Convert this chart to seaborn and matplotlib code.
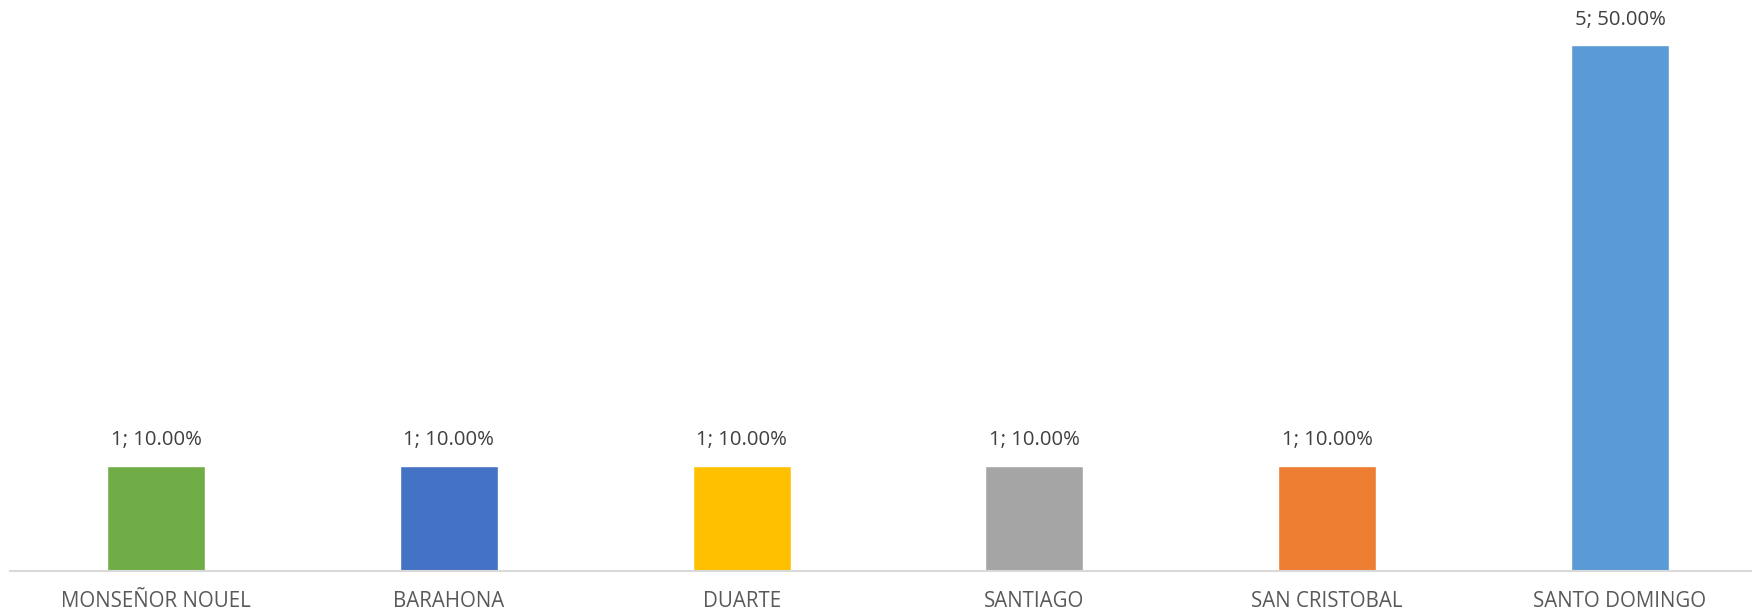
import matplotlib
matplotlib.use("Agg")
import matplotlib.pyplot as plt
import seaborn as sns
import pandas as pd

provincias = ["MONSEÑOR NOUEL", "BARAHONA", "DUARTE", "SANTIAGO", "SAN CRISTOBAL", "SANTO DOMINGO"]
cantidades = [1, 1, 1, 1, 1, 5]
porcentajes = [10.00, 10.00, 10.00, 10.00, 10.00, 50.00]
colores = ["#70AD47", "#4472C4", "#FFC000", "#A5A5A5", "#ED7D31", "#5B9BD5"]

df = pd.DataFrame({"provincia": provincias, "cantidad": cantidades})

sns.set_theme(style="white")
plt.rcParams["font.family"] = ["Open Sans", "DejaVu Sans"]

W, H = 1752, 612
fig = plt.figure(figsize=(W / 100, H / 100), dpi=100)
# plot area in pixels: left 9.6, baseline 570.5, 105 px per unit
left_px, base_px, unit_px = 9.6, 570.5, 105.0
ymax = 5.6
ax = fig.add_axes([left_px / W, (H - base_px) / H, 1756.8 / W, ymax * unit_px / H])

sns.barplot(data=df, x="provincia", y="cantidad", hue="provincia",
            palette=colores, width=0.335, legend=False, ax=ax, saturation=1)

ax.set_xlim(-0.5, 5.5)
ax.set_ylim(0, ymax)
for s in ["top", "right", "left"]:
    ax.spines[s].set_visible(False)
ax.spines["bottom"].set_color("#D9D9D9")
ax.spines["bottom"].set_linewidth(1.5)
ax.set_yticks([])
ax.set_xlabel("")
ax.set_ylabel("")
ax.tick_params(axis="x", length=0, pad=15, labelsize=14.8, labelcolor="#595959")

for i, (c, p) in enumerate(zip(cantidades, porcentajes)):
    ax.annotate(f"{c}; {p:.2f}%", xy=(i, c), xytext=(0, 11), textcoords="offset points",
                ha="center", va="bottom", fontsize=14.6, color="#404040")

fig.savefig("out.png", dpi=100)
